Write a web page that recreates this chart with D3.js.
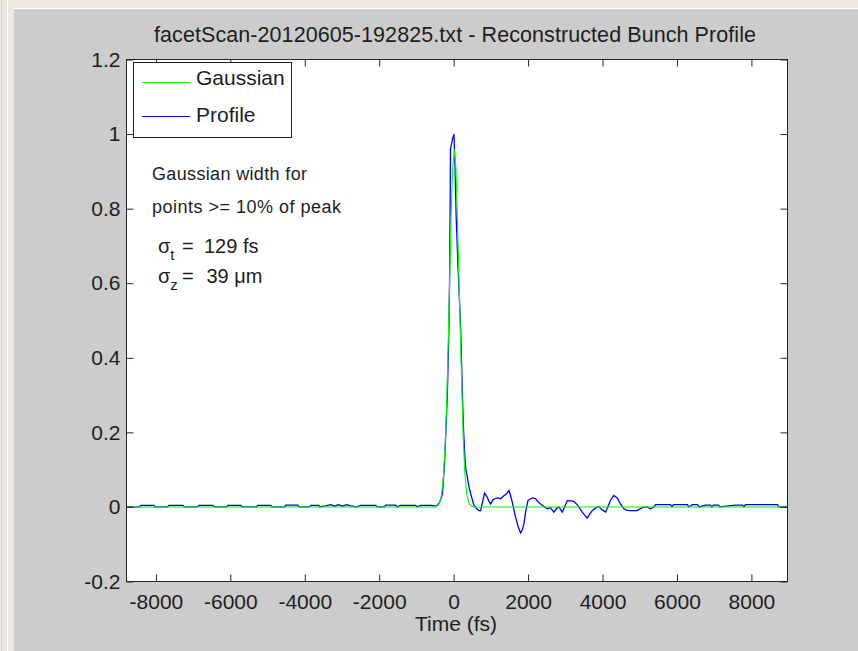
<!DOCTYPE html>
<html>
<head>
<meta charset="utf-8">
<title>facetScan - Reconstructed Bunch Profile</title>
<script src="https://cdn.jsdelivr.net/npm/d3@7"></script>
<style>
body, html {
  margin: 0;
  padding: 0;
  background: #cccccc;
  overflow: hidden;
}
svg {
  display: block;
  font-family: "Liberation Sans", Arial, Helvetica, sans-serif;
}
</style>
</head>
<body>
<script>
// values (time in fs)
var gaussTime  = [-8790, -500, -400, -340, -280, -230, -190, -150, -110, -70, -30, 15, 60, 100, 140, 180, 220, 260, 300, 360, 420, 520, 8970];
var gaussValue = [0, 0, 0.006, 0.023, 0.072, 0.16, 0.27, 0.42, 0.6, 0.77, 0.9, 0.96, 0.91, 0.78, 0.62, 0.47, 0.32, 0.18, 0.09, 0.029, 0.008, 0, 0];

var profileTime = [-8790, -8440, -8403, -8054, -8020, -7690, -7651, -7275, -7240, -6880, -6846, -6470, -6430, -6100, -6067, -5718, -5680, -5300, -5262, -4913, -4880,
  -4540, -4510, -4188, -4150, -3870, -3839, -3624, -3590, -3436, -3300, -3200, -3100, -2980, -2880, -2765, -2600, -2497, -2094, -2060, -1860, -1826, -1557, -1520,
  -1423, -1020, -980, -880, -600, -480, -440, -380, -340, -300, -270, -242, -210, -169, -130, -110, -95, -85, -30, 8, 35, 70, 115, 188, 234, 265, 295, 330, 368,
  410, 456, 500, 546, 620, 679, 725, 790, 832, 904, 950, 993, 1050, 1100, 1180, 1262, 1350, 1420, 1485, 1530, 1575, 1664, 1740, 1799, 1850, 1888, 1940, 1996,
  2067, 2130, 2201, 2270, 2336, 2420, 2515, 2600, 2693, 2760, 2828, 2917, 2980, 3052, 3140, 3230, 3300, 3364, 3454, 3588, 3650, 3722, 3800, 3901, 3990, 4081,
  4150, 4215, 4304, 4394, 4483, 4572, 4660, 4752, 4931, 5065, 5200, 5289, 5380, 5423, 5826, 5866, 5906, 6282, 6320, 6416, 6550, 6600, 6765, 6899, 6940, 6980,
  7114, 7150, 7570, 7758, 7800, 7839, 8698, 8740, 8970];
var profileValue = [0, 0, 0.004, 0.004, 0, 0, 0.004, 0.004, 0, 0, 0.004, 0.004, 0, 0, 0.004, 0.004, 0, 0, 0.004, 0.004, 0,
  0, 0.005, 0.005, 0, 0, 0.004, 0.004, 0, 0.003, 0.006, 0.002, 0.006, 0.002, 0.006, 0.003, 0, 0.004, 0.004, 0, 0, 0.005, 0.005, 0,
  0.004, 0.004, 0, 0.004, 0.004, 0.002, 0.004, 0.012, 0.022, 0.036, 0.08, 0.124, 0.2, 0.304, 0.47, 0.6, 0.8, 0.96, 0.987, 1.0, 0.92, 0.77, 0.65, 0.48, 0.304, 0.21, 0.143, 0.1, 0.08,
  0.055, 0.036, 0.02, 0.004, -0.005, -0.01, -0.01, 0.02, 0.037, 0.026, 0.015, 0.008, 0.018, 0.022, 0.024, 0.022, 0.03, 0.035, 0.044, 0.03, 0.013, -0.028, -0.055, -0.07, -0.06, -0.045, -0.01, 0.017,
  0.022, 0.024, 0.022, 0.014, 0.008, 0.002, -0.005, -0.002, -0.014, -0.005, 0, -0.014, 0, 0.017, 0.016, 0.015, 0.008, 0, -0.014, -0.03, -0.02, -0.01, -0.004, 0.001, -0.008, -0.014,
  0.002, 0.018, 0.031, 0.024, 0.008, -0.005, -0.009, -0.01, -0.01, -0.002, 0, -0.005, 0, 0.006, 0.006, 0, 0.006, 0.006, 0, 0.006, 0.006, 0, 0.005, 0.005, 0, 0.005,
  0.005, 0, 0.005, 0.005, 0, 0.006, 0.006, 0, 0];

var xTicks = [-8000, -6000, -4000, -2000, 0, 2000, 4000, 6000, 8000];
var xTickLabels = ["-8000", "-6000", "-4000", "-2000", "0", "2000", "4000", "6000", "8000"];
var yTicks = [-0.2, 0, 0.2, 0.4, 0.6, 0.8, 1, 1.2];
var yTickLabels = ["-0.2", "0", "0.2", "0.4", "0.6", "0.8", "1", "1.2"];
var legendLabels = ["Gaussian", "Profile"];
var seriesColors = ["#00ff00", "#0000ff"];
var titleText = "facetScan-20120605-192825.txt - Reconstructed Bunch Profile";
var xLabel = "Time (fs)";

var W = 858, H = 651;
var box = {left: 126.5, right: 787.5, top: 59.5, bottom: 581.5};

var svg = d3.select("body").append("svg")
    .attr("width", W)
    .attr("height", H);

// grey figure background + bit of window frame
svg.append("rect").attr("width", W).attr("height", H).attr("fill", "#cccccc");
svg.append("rect").attr("x", 0).attr("y", 0).attr("width", W).attr("height", 9).attr("fill", "#ebe8e1");
svg.append("rect").attr("x", 0).attr("y", 0).attr("width", 14).attr("height", H).attr("fill", "#ebe8e1");
svg.append("line").attr("x1", 7.5).attr("x2", 7.5).attr("y1", 0).attr("y2", H).attr("stroke", "#ffffff");
svg.append("line").attr("x1", 1.5).attr("x2", 1.5).attr("y1", 0).attr("y2", H).attr("stroke", "#d6d3cb");
svg.append("line").attr("x1", 14).attr("x2", W).attr("y1", 8.5).attr("y2", 8.5).attr("stroke", "#ffffff");

var x = d3.scaleLinear()
    .domain([-8790, 8970])
    .range([box.left, box.right]);

var y = d3.scaleLinear()
    .domain([-0.2, 1.2])
    .range([box.bottom, box.top]);

// plot area
svg.append("rect")
    .attr("x", box.left).attr("y", box.top)
    .attr("width", box.right - box.left).attr("height", box.bottom - box.top)
    .attr("fill", "#ffffff");

var line = d3.line()
    .x(function(d) { return x(d[0]); })
    .y(function(d) { return y(d[1]); });

var profile = d3.zip(profileTime, profileValue);
var gauss = d3.zip(gaussTime, gaussValue);

svg.append("path")
    .datum(profile)
    .attr("fill", "none")
    .attr("stroke", seriesColors[1])
    .attr("stroke-width", 1.3)
    .attr("d", line);

svg.append("path")
    .datum(gauss)
    .attr("fill", "none")
    .attr("stroke", seriesColors[0])
    .attr("stroke-width", 1.1)
    .attr("d", line);

function styleAxis(g) {
  g.select(".domain").remove();
  g.selectAll("line").attr("stroke", "#262626");
  g.selectAll("text")
    .attr("fill", "#1e1e1e")
    .attr("font-size", 21)
    .attr("font-family", "Liberation Sans, Arial, sans-serif");
}

svg.append("g")
    .attr("transform", "translate(0," + box.bottom + ")")
    .call(d3.axisBottom(x).tickValues(xTicks).tickFormat(function(d, i) { return xTickLabels[i]; })
      .tickSizeInner(-7).tickSizeOuter(0).tickPadding(13))
    .call(styleAxis);

svg.append("g")
    .attr("transform", "translate(0," + box.top + ")")
    .call(d3.axisTop(x).tickValues(xTicks).tickFormat("").tickSizeInner(-7).tickSizeOuter(0))
    .call(styleAxis);

svg.append("g")
    .attr("transform", "translate(" + box.left + ",0)")
    .call(d3.axisLeft(y).tickValues(yTicks).tickFormat(function(d, i) { return yTickLabels[i]; })
      .tickSizeInner(-7).tickSizeOuter(0).tickPadding(6))
    .call(styleAxis);

svg.append("g")
    .attr("transform", "translate(" + box.right + ",0)")
    .call(d3.axisRight(y).tickValues(yTicks).tickFormat("").tickSizeInner(-7).tickSizeOuter(0))
    .call(styleAxis);

// axes box
svg.append("rect")
    .attr("x", box.left).attr("y", box.top)
    .attr("width", box.right - box.left).attr("height", box.bottom - box.top)
    .attr("fill", "none")
    .attr("stroke", "#262626");

// title and x label
svg.append("text")
    .attr("x", 455).attr("y", 42)
    .attr("text-anchor", "middle")
    .attr("font-size", 21.5)
    .attr("textLength", 602).attr("lengthAdjust", "spacing")
    .attr("fill", "#1e1e1e")
    .text(titleText);

svg.append("text")
    .attr("x", 456).attr("y", 631)
    .attr("text-anchor", "middle")
    .attr("font-size", 21)
    .attr("fill", "#1e1e1e")
    .text(xLabel);

// legend
var legend = svg.append("g");
legend.append("rect")
    .attr("x", 133.5).attr("y", 62.5)
    .attr("width", 158).attr("height", 75)
    .attr("fill", "#ffffff")
    .attr("stroke", "#1e1e1e");

legendLabels.forEach(function(lab, i) {
  var ly = 82.5 + i * 34;
  legend.append("line")
      .attr("x1", 142).attr("x2", 190)
      .attr("y1", ly).attr("y2", ly)
      .attr("stroke", seriesColors[i])
      .attr("stroke-width", 1.2);
  legend.append("text")
      .attr("x", 196).attr("y", 85 + i * 36.5)
      .attr("font-size", 21)
      .attr("fill", "#1e1e1e")
      .text(lab);
});

// annotation
var note = svg.append("g").attr("fill", "#1e1e1e");
note.append("text").attr("x", 152).attr("y", 180).attr("font-size", 18)
    .attr("textLength", 155).attr("lengthAdjust", "spacing")
    .text("Gaussian width for");
note.append("text").attr("x", 152).attr("y", 212.7).attr("font-size", 18)
    .attr("textLength", 189).attr("lengthAdjust", "spacing")
    .text("points >= 10% of peak");

var sig = note.append("text").attr("x", 158).attr("y", 253).attr("font-size", 20);
sig.append("tspan").text("σ");
sig.append("tspan").attr("font-size", 15).attr("dy", 7).text("t");
note.append("text").attr("x", 182).attr("y", 253).attr("font-size", 20).text("=");
note.append("text").attr("x", 204).attr("y", 253).attr("font-size", 20).text("129 fs");

var sig2 = note.append("text").attr("x", 158).attr("y", 282.5).attr("font-size", 20);
sig2.append("tspan").text("σ");
sig2.append("tspan").attr("font-size", 15).attr("dy", 7).text("z");
note.append("text").attr("x", 182).attr("y", 282.5).attr("font-size", 20).text("=");
note.append("text").attr("x", 206.5).attr("y", 282.5).attr("font-size", 20).text("39 μm");
</script>
</body>
</html>
